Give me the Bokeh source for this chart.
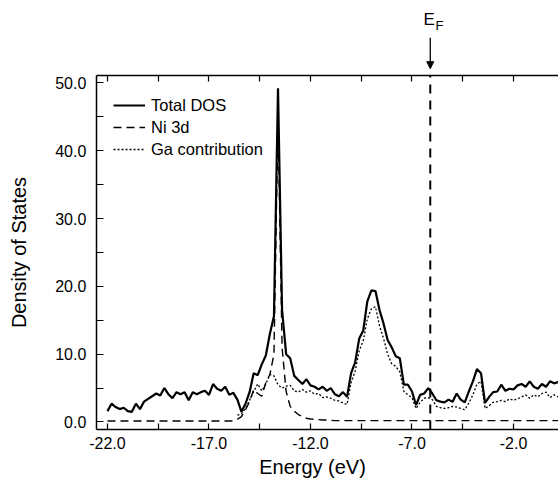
import numpy as np
from bokeh.plotting import figure
from bokeh.models import (Range1d, FixedTicker, NumeralTickFormatter, LinearAxis,
                          Arrow, NormalHead, Label)
from bokeh.embed import file_html
from bokeh.resources import INLINE

# ---------------- data ----------------
energy = [round(-22.0 + 0.2 * k, 1) for k in range(112)]

total_dos = [
    1.6, 2.7, 2.2, 1.9, 2.1, 1.6, 1.5, 2.7, 1.9, 3.0,
    3.4, 3.8, 4.2, 3.9, 5.0, 4.1, 3.5, 4.4, 4.1, 4.4,
    3.2, 4.4, 4.1, 4.4, 4.6, 4.0, 5.6, 4.9, 4.6, 5.2,
    4.0, 4.3, 3.3, 1.5, 2.7, 4.4, 7.2, 6.9, 8.5, 9.8,
    13.0, 15.6, 49.2, 16.5, 10.0, 9.4, 6.8, 6.2, 5.6, 6.3,
    5.4, 5.2, 4.8, 5.2, 4.6, 5.0, 4.1, 3.8, 4.4, 3.7,
    7.2, 8.8, 12.3, 13.5, 17.8, 19.4, 19.3, 16.5, 14.5, 12.1,
    11.0, 9.7, 9.4, 5.5, 5.5, 4.5, 2.5, 4.0, 4.2, 5.0,
    4.2, 3.2, 3.0, 2.9, 3.3, 3.0, 4.2, 3.3, 2.9, 4.5,
    6.0, 7.8, 7.2, 2.8, 3.7, 4.4, 4.5, 5.5, 4.6, 4.9,
    4.8, 5.4, 5.6, 5.2, 6.0, 5.2, 4.9, 5.6, 5.2, 6.0,
    5.7, 5.9,
]

ni_3d = [
    0.15, 0.15, 0.15, 0.15, 0.15, 0.15, 0.15, 0.15, 0.15, 0.15,
    0.15, 0.15, 0.15, 0.15, 0.15, 0.15, 0.15, 0.15, 0.15, 0.15,
    0.15, 0.15, 0.15, 0.15, 0.15, 0.15, 0.15, 0.15, 0.15, 0.15,
    0.15, 0.15, 0.4, 0.8, 1.8, 3.0, 4.8, 4.2, 3.8, 5.8,
    7.0, 10.0, 45.0, 11.0, 4.5, 2.3, 1.6, 1.1, 0.8, 0.55,
    0.45, 0.4, 0.35, 0.3, 0.3, 0.25, 0.2, 0.2, 0.2, 0.2,
    0.2, 0.2, 0.2, 0.2, 0.2, 0.2, 0.2, 0.2, 0.2, 0.2,
    0.2, 0.2, 0.2, 0.2, 0.2, 0.2, 0.2, 0.2, 0.2, 0.2,
    0.2, 0.2, 0.2, 0.2, 0.2, 0.2, 0.2, 0.2, 0.2, 0.2,
    0.2, 0.2, 0.2, 0.2, 0.2, 0.2, 0.2, 0.2, 0.2, 0.2,
    0.2, 0.2, 0.2, 0.2, 0.2, 0.2, 0.2, 0.2, 0.2, 0.2,
    0.2, 0.2,
]

ga_energy = energy[32:]
ga_contribution = [
    1.0, 1.2, 2.0, 3.2, 4.5, 5.6, 4.6, 5.6, 7.0, 6.8,
    5.5, 5.0, 5.3, 5.4, 4.6, 4.4, 4.8, 4.4, 4.6, 4.1,
    4.2, 3.6, 3.7, 3.5, 3.2, 3.1, 2.8, 2.6, 5.8, 7.5,
    10.5, 12.0, 15.2, 16.7, 17.0, 14.2, 12.3, 10.0, 8.6, 8.2,
    7.4, 4.5, 4.0, 3.6, 2.0, 2.9, 3.5, 3.6, 3.3, 2.3,
    2.1, 2.0, 2.1, 2.3, 2.2, 2.0, 1.8, 2.8, 4.0, 5.6,
    6.0, 2.0, 2.4, 2.9, 3.0, 3.2, 3.0, 3.4, 3.2, 3.4,
    3.7, 4.0, 3.5, 4.0, 3.7, 4.2, 4.4, 3.6, 4.0, 3.7,
]

fermi_energy = -6.1

x_major = [-22.0, -17.0, -12.0, -7.0, -2.0]
x_minor = [-19.5, -14.5, -9.5, -4.5]
y_major = [0.0, 10.0, 20.0, 30.0, 40.0, 50.0]
y_minor = [5.0, 15.0, 25.0, 35.0, 45.0]

# plot box (axes limits)
x_min, x_max = -22.55, 0.22
y_min, y_max = -1.1, 51.1

FONT = "Liberation Sans"

# ---------------- figure ----------------
# the frame spans the whole page so that texts around the box are not clipped;
# the box itself is drawn by axes fixed at the limits above
p = figure(width=558, height=479, output_backend="svg", toolbar_location=None,
           x_range=Range1d(-27.27, 0.217), y_range=Range1d(-8.48, 62.15),
           min_border_left=0, min_border_right=0, min_border_top=0,
           min_border_bottom=0, x_axis_location=None, y_axis_location=None)
p.xgrid.visible = False
p.ygrid.visible = False
p.outline_line_color = None
p.background_fill_color = "white"
p.border_fill_color = "white"

p.line(energy, total_dos, line_color="black", line_width=2.2, legend_label="Total DOS")
p.line(energy, ni_3d, line_color="black", line_width=1.4, line_dash="8 5", legend_label="Ni 3d")
p.line(ga_energy, ga_contribution, line_color="black", line_width=1.3, line_dash="2 2",
       legend_label="Ga contribution")

# Fermi level
p.segment(x0=[fermi_energy], y0=[y_min], x1=[fermi_energy], y1=[y_max],
          line_color="black", line_width=2, line_dash="9 7")

xt = FixedTicker(ticks=x_major, minor_ticks=x_minor)
yt = FixedTicker(ticks=y_major, minor_ticks=y_minor)


def style_axis(ax, ticker):
    ax.ticker = ticker
    ax.axis_line_color = "black"
    ax.axis_line_width = 1.5
    ax.major_tick_in = 6
    ax.major_tick_out = 0
    ax.minor_tick_in = 6
    ax.minor_tick_out = 0
    ax.major_tick_line_width = 1.2
    ax.minor_tick_line_width = 1.2
    ax.major_label_text_font = FONT
    ax.major_label_text_font_size = "16px"
    ax.major_label_text_color = "black"


bottom = LinearAxis(fixed_location=y_min, bounds=(x_min, x_max),
                    formatter=NumeralTickFormatter(format="0.0"))
style_axis(bottom, xt)
bottom.major_label_standoff = 8
p.add_layout(bottom, "below")

top = LinearAxis(fixed_location=y_max, bounds=(x_min, x_max),
                 major_label_overrides={t: "" for t in x_major})
style_axis(top, xt)
p.add_layout(top, "above")

left = LinearAxis(fixed_location=x_min, bounds=(y_min, y_max),
                  formatter=NumeralTickFormatter(format="0.0"))
style_axis(left, yt)
left.major_tick_in = 7
left.minor_tick_in = 7
left.major_label_standoff = 10
left.axis_label = "Density of States"
left.axis_label_text_font = FONT
left.axis_label_text_font_size = "20px"
left.axis_label_text_font_style = "normal"
left.axis_label_text_color = "black"
left.axis_label_standoff = 22
p.add_layout(left, "left")

p.add_layout(Label(x=-11.9, y=-6.71, text="Energy (eV)", text_align="center",
                   text_baseline="middle", text_font=FONT, text_font_size="20px",
                   text_color="black"))

# Fermi level marker
p.add_layout(Arrow(x_start=fermi_energy, y_start=56.65, x_end=fermi_energy, y_end=52.1,
                   line_width=1.3, end=NormalHead(size=7, fill_color="black", line_color="black")))
p.add_layout(Label(x=-6.43, y=59.33, text="E", text_align="left", text_baseline="middle",
                   text_font=FONT, text_font_size="17px", text_color="black"))
p.add_layout(Label(x=-5.84, y=58.39, text="F", text_align="left", text_baseline="middle",
                   text_font=FONT, text_font_size="13px", text_color="black"))

lg = p.legend[0]
lg.location = (113, 320)
lg.border_line_color = None
lg.background_fill_alpha = 0
lg.label_text_font = FONT
lg.label_text_font_size = "16.5px"
lg.label_text_color = "black"
lg.glyph_width = 32
lg.label_standoff = 6
lg.spacing = 2
lg.margin = 0
lg.padding = 0

open("out.html", "w").write(file_html(p, INLINE))
